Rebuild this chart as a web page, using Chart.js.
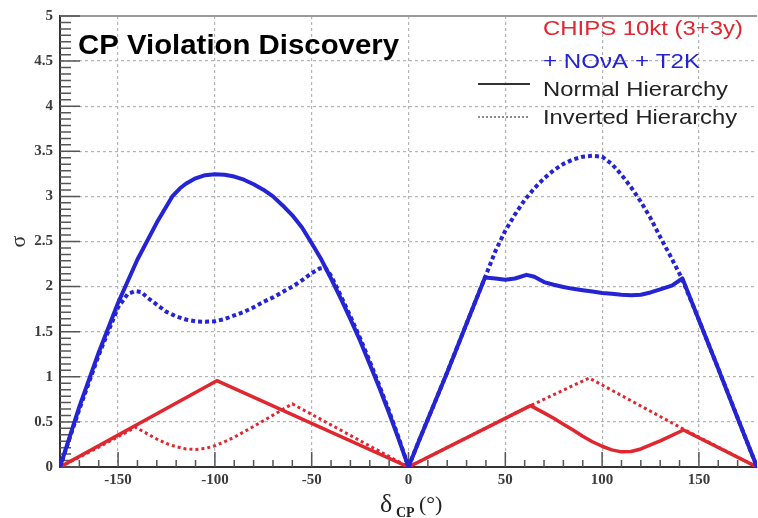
<!DOCTYPE html>
<html>
<head>
<meta charset="utf-8">
<script src="https://cdn.jsdelivr.net/npm/chart.js@4.4.1/dist/chart.umd.min.js"></script>
<style>
  html, body { margin: 0; padding: 0; background: #fff; }
</style>
</head>
<body>
<canvas id="cpChart" width="758" height="518"></canvas>
<script>
'use strict';

/* ----- axes ----- */
const xTicks = [-150, -100, -50, 0, 50, 100, 150];
const yTicks = [0, 0.5, 1, 1.5, 2, 2.5, 3, 3.5, 4, 4.5, 5];

/* ----- CHIPS + NOvA + T2K, normal hierarchy ----- */
const comboNhDeg = [-180, -170, -160, -150, -140, -130, -122, -118, -115, -110, -105, -100, -95, -90, -85, -80, -75, -70, -65, -60, -55, -50, -45, -40, -35, -30, -25, -20, -15, -10, -5, 0,
  5, 10, 15, 20, 25, 30, 35, 39.5, 45, 50, 55, 61, 65, 70, 75, 80, 85, 90, 95, 100, 105, 110, 115, 120, 125, 130, 136, 141.5, 150, 160, 170, 180];
const comboNhSig = [0, 0.67, 1.27, 1.82, 2.3, 2.71, 3.0, 3.09, 3.14, 3.2, 3.235, 3.245, 3.24, 3.22, 3.185, 3.135, 3.075, 3.0, 2.9, 2.79, 2.655, 2.48, 2.3, 2.09, 1.87, 1.64, 1.4, 1.14, 0.875, 0.595, 0.304, 0,
  0.27, 0.53, 0.79, 1.05, 1.32, 1.59, 1.86, 2.1, 2.09, 2.075, 2.09, 2.13, 2.11, 2.05, 2.02, 1.995, 1.975, 1.96, 1.945, 1.93, 1.92, 1.91, 1.905, 1.91, 1.935, 1.97, 2.01, 2.09, 1.63, 1.09, 0.54, 0];

/* ----- CHIPS + NOvA + T2K, inverted hierarchy ----- */
const comboIhDeg = [-180, -170, -160, -150, -145, -141, -138, -135, -130, -125, -120, -115, -110, -105, -100, -95, -90, -85, -80, -75, -70, -65, -60, -55, -50, -46, -43, -40, -35, -30, -25, -20, -15, -10, -5, 0,
  5, 10, 15, 20, 25, 30, 35, 39.5, 45, 50, 55, 60, 65, 70, 75, 80, 85, 90, 95, 100, 105, 110, 115, 120, 125, 130, 135, 141, 150, 160, 170, 180];
const comboIhSig = [0, 0.64, 1.24, 1.77, 1.92, 1.95, 1.94, 1.88, 1.8, 1.72, 1.67, 1.635, 1.615, 1.61, 1.615, 1.64, 1.68, 1.72, 1.77, 1.83, 1.88, 1.94, 2.0, 2.07, 2.15, 2.2, 2.21, 2.12, 1.9, 1.67, 1.43, 1.17, 0.9, 0.62, 0.32, 0,
  0.27, 0.53, 0.79, 1.05, 1.32, 1.59, 1.86, 2.1, 2.4, 2.62, 2.8, 2.96, 3.09, 3.2, 3.29, 3.36, 3.41, 3.44, 3.45, 3.44, 3.36, 3.24, 3.1, 2.94, 2.76, 2.55, 2.35, 2.1, 1.63, 1.09, 0.545, 0];

/* ----- CHIPS 10kt alone, normal hierarchy ----- */
const chipsNhDeg = [-180, -99, 0, 63, 70, 75, 80, 85, 90, 95, 100, 105, 110, 115, 120, 125, 130, 135, 142, 180];
const chipsNhSig = [0, 0.957, 0, 0.68, 0.6, 0.54, 0.475, 0.41, 0.34, 0.28, 0.23, 0.19, 0.168, 0.172, 0.2, 0.245, 0.29, 0.34, 0.41, 0];

/* ----- CHIPS 10kt alone, inverted hierarchy ----- */
const chipsIhDeg = [-180, -160, -141, -135, -130, -125, -120, -115, -110, -105, -100, -95, -90, -80, -70, -60, -30, 0, 63, 93.3, 142, 180];
const chipsIhSig = [0, 0.22, 0.44, 0.37, 0.31, 0.26, 0.225, 0.2, 0.195, 0.205, 0.235, 0.28, 0.33, 0.45, 0.575, 0.7, 0.35, 0, 0.68, 0.987, 0.42, 0];

const BLUE = '#2424d4';
const RED = '#e0262e';

const pts = (xs, ys) => xs.map((x, i) => ({ x, y: ys[i] }));

// 枠・目盛・タイトル・凡例（ROOT風）
const decorPlugin = {
  id: 'cpDecor',
  beforeDatasetsDraw(chart) {
    const { ctx, chartArea: a, scales: { x, y } } = chart;
    ctx.save();
    // top frame
    ctx.strokeStyle = '#9a9a9a';
    ctx.lineWidth = 2;
    ctx.beginPath();
    ctx.moveTo(a.left, a.top);
    ctx.lineTo(a.right, a.top);
    ctx.stroke();

    ctx.strokeStyle = '#555';
    ctx.lineWidth = 1.5;
    ctx.beginPath();
    // x ticks pointing up
    for (let v = -170; v <= 170; v += 10) {
      const px = x.getPixelForValue(v);
      const len = v % 50 === 0 ? 15 : 7;
      ctx.moveTo(px, a.bottom);
      ctx.lineTo(px, a.bottom - len);
    }
    // y ticks pointing right
    for (let i = 0; i < yTicks.length; i++) {
      const py = y.getPixelForValue(yTicks[i]);
      ctx.moveTo(a.left, py);
      ctx.lineTo(a.left + 20, py);
      if (i < yTicks.length - 1) {
        for (let k = 1; k < 7; k++) {
          const pm = y.getPixelForValue(yTicks[i] + k * 0.5 / 7);
          ctx.moveTo(a.left, pm);
          ctx.lineTo(a.left + 11, pm);
        }
      }
    }
    ctx.stroke();
    ctx.restore();
  },
  afterDraw(chart) {
    const { ctx } = chart;
    const stretched = (text, x, y, font, color, width) => {
      ctx.save();
      ctx.font = font;
      ctx.fillStyle = color;
      ctx.textBaseline = 'alphabetic';
      const w = ctx.measureText(text).width;
      ctx.translate(x, y);
      ctx.scale(width / w, 1);
      ctx.fillText(text, 0, 0);
      ctx.restore();
    };

    // title
    stretched('CP Violation Discovery', 78, 54, 'bold 28px "Liberation Sans", Arial, sans-serif', '#000', 321);

    // legend
    const lf = '21px "Liberation Sans", Arial, sans-serif';
    stretched('CHIPS 10kt (3+3y)', 543, 35, lf, RED, 200);
    stretched('+ NO\u03bdA + T2K', 543, 68, lf, BLUE, 157);
    stretched('Normal Hierarchy', 543, 96, lf, '#222', 185);
    stretched('Inverted Hierarchy', 543, 124, lf, '#222', 194);
    ctx.save();
    ctx.strokeStyle = '#333';
    ctx.lineWidth = 2;
    ctx.beginPath();
    ctx.moveTo(478, 84);
    ctx.lineTo(530, 84);
    ctx.stroke();
    ctx.strokeStyle = '#666';
    ctx.lineWidth = 1.5;
    ctx.setLineDash([2, 2]);
    ctx.beginPath();
    ctx.moveTo(478, 117);
    ctx.lineTo(530, 117);
    ctx.stroke();
    ctx.restore();

    // x axis title: δ_CP (°)
    ctx.save();
    ctx.fillStyle = '#222';
    ctx.textBaseline = 'alphabetic';
    ctx.font = '26px "Liberation Serif", "DejaVu Serif", serif';
    ctx.fillText('\u03b4', 380, 512);
    ctx.font = 'bold 14px "Liberation Serif", "DejaVu Serif", serif';
    ctx.fillText('CP', 396, 517);
    ctx.font = '22px "Liberation Serif", "DejaVu Serif", serif';
    ctx.fillText('(\u00b0)', 419, 511);
    ctx.restore();
  }
};

const tickFont = { family: "'Liberation Serif', 'DejaVu Serif', serif", size: 15, weight: 'bold' };

new Chart(document.getElementById('cpChart'), {
  type: 'line',
  data: {
    datasets: [
      {
        label: 'CHIPS+NOvA+T2K NH',
        data: pts(comboNhDeg, comboNhSig),
        borderColor: BLUE,
        borderWidth: 4,
        order: 1
      },
      {
        label: 'CHIPS+NOvA+T2K IH',
        data: pts(comboIhDeg, comboIhSig),
        borderColor: BLUE,
        borderWidth: 4,
        borderDash: [4, 3],
        order: 2
      },
      {
        label: 'CHIPS NH',
        data: pts(chipsNhDeg, chipsNhSig),
        borderColor: RED,
        borderWidth: 3.5,
        order: 3
      },
      {
        label: 'CHIPS IH',
        data: pts(chipsIhDeg, chipsIhSig),
        borderColor: RED,
        borderWidth: 3,
        borderDash: [3, 3],
        order: 4
      }
    ]
  },
  options: {
    responsive: false,
    animation: false,
    parsing: false,
    elements: {
      point: { radius: 0 },
      line: { tension: 0, fill: false, borderJoinStyle: 'round' }
    },
    layout: { padding: { top: 14, right: 1, left: 0, bottom: 0 } },
    plugins: {
      legend: { display: false },
      tooltip: { enabled: false }
    },
    scales: {
      x: {
        type: 'linear',
        min: -180,
        max: 180,
        afterBuildTicks: s => { s.ticks = xTicks.map(v => ({ value: v })); },
        afterFit: s => { s.height = 51; },
        ticks: { font: tickFont, color: '#3a3a3a', padding: 4, maxRotation: 0, callback: v => String(v) },
        grid: { color: '#b4b4b4', lineWidth: 1.2, drawTicks: false },
        border: { color: '#333', width: 2, dash: [3, 3] }
      },
      y: {
        type: 'linear',
        min: 0,
        max: 5,
        afterBuildTicks: s => { s.ticks = yTicks.map(v => ({ value: v })); },
        afterFit: s => { s.width = 60; },
        ticks: { font: tickFont, color: '#3a3a3a', padding: 7, callback: v => String(v) },
        grid: { color: '#b4b4b4', lineWidth: 1.2, drawTicks: false },
        border: { color: '#333', width: 2, dash: [3, 3] },
        title: {
          display: true,
          text: '\u03c3',
          color: '#333',
          font: { family: "'Liberation Serif', 'DejaVu Serif', serif", size: 22 },
          padding: { top: 6, bottom: 0 }
        }
      }
    }
  },
  plugins: [decorPlugin]
});
</script>
</body>
</html>
